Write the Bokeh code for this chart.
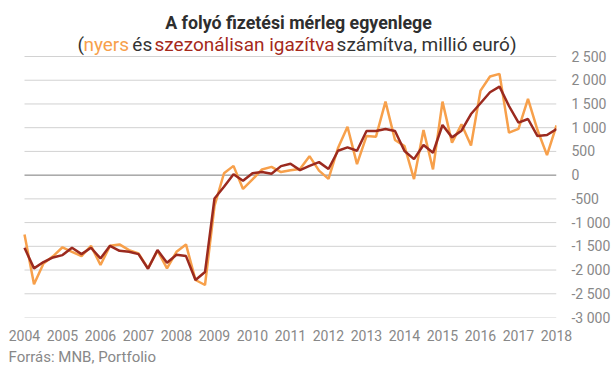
from bokeh.plotting import figure
from bokeh.models import Range1d, FixedTicker, CustomJSTickFormatter, Label, Title
from bokeh.embed import file_html
from bokeh.resources import INLINE

# ---- data: quarterly current-account balance, million EUR (2004 Q1 .. 2018 Q1)
start_year = 2004
quarters_per_year = 4
raw = [-1250, -2300, -1860, -1710, -1520, -1615, -1705, -1490, -1895, -1490,
       -1460, -1580, -1650, -1965, -1590, -1965, -1615, -1460, -2210, -2315,
       -650, 40, 195, -290, -90, 120, 175, 65, 105, 130,
       400, 95, -80, 570, 1020, 232, 824, 810, 1549, 739,
       612, -84, 950, 120, 1549, 683, 1070, 625, 1781, 2077,
       2133, 894, 975, 1605, 950, 422, 1049]
sa = [-1531, -1965, -1832, -1734, -1685, -1531, -1664, -1531, -1755, -1490,
      -1594, -1615, -1664, -1972, -1580, -1846, -1678, -1706, -2210, -2042,
      -491, -246, 20, -120, 40, 65, 30, 190, 240, 105,
      195, 274, 130, 514, 584, 514, 929, 929, 971, 929,
      507, 338, 634, 472, 1056, 796, 936, 1288, 1514, 1746,
      1866, 1457, 1105, 1183, 824, 845, 971]
year_ticks = list(range(2004, 2019))
value_ticks = [-3000, -2500, -2000, -1500, -1000, -500, 0, 500, 1000, 1500, 2000, 2500]
title = "A folyó fizetési mérleg egyenlege"
subtitle_parts = ["(", "nyers", "és", "szezonálisan", "igazítva", "számítva, millió euró)"]
source_text = "Forrás: MNB, Portfolio"

x = [start_year + i / quarters_per_year for i in range(len(raw))]

ORANGE = "#f7a04b"
DARKRED = "#9b2a1f"
GRAY = "#888888"
DARK = "#333333"
SUB_RED = "#a5291b"
FONT = "Roboto"

W, H = 613, 378
# pixel layout: data area spans x 24..556, y 56 (top tick) .. 317 (bottom tick)
PL, PR, PT, PB = 24, 556, 56, 317
X0, X1 = year_ticks[0], year_ticks[-1]
Y0, Y1 = value_ticks[0], value_ticks[-1]
ppx = (PR - PL) / (X1 - X0)          # pixels per year
ppy = (PB - PT) / (Y1 - Y0)          # pixels per million EUR

# frame reaches the canvas top-left corner so header text can live inside it
xr = Range1d(X0 - PL / ppx, X1)
yr = Range1d(Y0, Y1 + PT / ppy)


def px_x(px):
    return X0 + (px - PL) / ppx


def px_y(py):
    return Y1 - (py - PT) / ppy


p = figure(width=W, height=H, output_backend="svg", toolbar_location=None,
           x_range=xr, y_range=yr, y_axis_location="right",
           min_border_left=0, min_border_right=W - PR,
           min_border_top=0, min_border_bottom=H - PB)
p.outline_line_color = None
p.background_fill_color = "white"
p.border_fill_color = "white"
p.xgrid.visible = False
p.ygrid.visible = False

for ax in (p.xaxis[0], p.yaxis[0]):
    ax.axis_line_color = None
    ax.major_tick_line_color = None
    ax.minor_tick_line_color = None
    ax.major_tick_out = 0
    ax.major_tick_in = 0
    ax.major_label_text_font = FONT
    ax.major_label_text_font_size = "14px"
    ax.major_label_text_color = GRAY

p.xaxis.ticker = FixedTicker(ticks=year_ticks)
p.xaxis.major_label_standoff = 12
p.yaxis.ticker = FixedTicker(ticks=value_ticks)
p.yaxis.major_label_standoff = 15
p.yaxis.formatter = CustomJSTickFormatter(code="""
const s = Math.abs(tick).toFixed(0).replace(/\\B(?=(\\d{3})+(?!\\d))/g, " ");
return (tick < 0 ? "-" : "") + s;
""")

# horizontal grid lines across the data area only (zero line darker)
grid_vals = [v for v in value_ticks if v != 0]
p.segment(x0=[X0] * len(grid_vals), y0=grid_vals, x1=[X1] * len(grid_vals), y1=grid_vals,
          line_color="#d2d2d2", line_width=1)
p.segment(x0=[X0], y0=[0], x1=[X1], y1=[0], line_color="#7a7a7a", line_width=1)

p.line(x, raw, line_color=ORANGE, line_width=2.5)
p.line(x, sa, line_color=DARKRED, line_width=2.5)

# ---- title and coloured subtitle
p.add_layout(Label(x=px_x(298), y=px_y(22), text=title,
                   text_font=FONT, text_font_style="bold", text_font_size="17.8px",
                   text_color="#2e2e2e", text_align="center", text_baseline="alphabetic"))
sub_x = [77, 82.9, 131.8, 154, 268.7, 336.1]
sub_colors = [DARK, ORANGE, DARK, SUB_RED, SUB_RED, DARK]
for txt, xs, col in zip(subtitle_parts, sub_x, sub_colors):
    p.add_layout(Label(x=px_x(xs), y=px_y(43.5), text=txt,
                       text_font=FONT, text_font_size="19px", text_color=col,
                       text_align="left", text_baseline="alphabetic"))

# ---- source line below the axis
p.add_layout(Title(text=source_text, align="left", offset=8, standoff=4,
                   text_font=FONT, text_font_size="15px", text_font_style="normal",
                   text_color=GRAY), "below")

open("out.html", "w").write(file_html(p, INLINE))
